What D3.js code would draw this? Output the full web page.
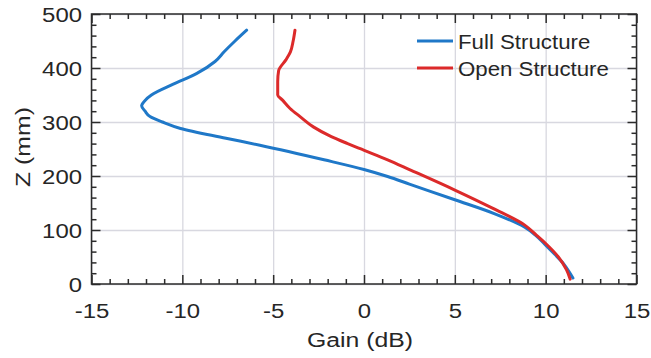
<!DOCTYPE html>
<html>
<head>
<meta charset="utf-8">
<script src="https://cdn.jsdelivr.net/npm/d3@7"></script>
<style>
  html, body { margin: 0; padding: 0; background: #fff; }
  svg { display: block; font-family: Arial, "Liberation Sans", sans-serif; }
</style>
</head>
<body>
<div id="chart"></div>
<script>
// data (z in mm, gain in dB)
var seriesNames = ['Full Structure', 'Open Structure'];
var fullZ    = [470, 450, 430, 412, 390, 370, 350, 340, 330, 320, 310, 300, 288, 270, 257, 230, 212, 199, 185, 156, 130, 105, 90, 72, 55, 38, 22, 11];
var fullGain = [-6.46, -7.1, -7.7, -8.2, -9.2, -10.5, -11.7, -12.05, -12.24, -12.05, -11.78, -11.1, -10.1, -7.6, -5.73, -2.2, 0, 1.3, 2.5, 5.0, 7.2, 8.85, 9.45, 10.0, 10.5, 10.97, 11.3, 11.5];
var openZ    = [470, 450, 430, 415, 395, 375, 350, 341, 325, 310, 291, 273, 260, 251, 230, 212, 174, 140, 109, 90, 75, 50, 26, 9];
var openGain = [-3.8, -3.9, -4.05, -4.3, -4.7, -4.75, -4.75, -4.5, -4.07, -3.52, -2.79, -1.8, -0.9, -0.25, 1.3, 2.5, 5.0, 7.1, 8.85, 9.5, 10.0, 10.7, 11.15, 11.35];
var xTicks = [-15, -10, -5, 0, 5, 10, 15];
var yTicks = [0, 100, 200, 300, 400, 500];
var colors = ['#1f78c8', '#dc2a2a'];

var W = 651, H = 358;
var pLeft = 91.5, pRight = 636.5, pTop = 14, pBottom = 284;

var svg = d3.select('#chart').append('svg').attr('width', W).attr('height', H);

var x = d3.scaleLinear().domain([-15, 15]).range([pLeft, pRight]);
var y = d3.scaleLinear().domain([0, 500]).range([pBottom, pTop]);

var xMinor = d3.range(-15, 15.01, 1).filter(function(v){ return xTicks.indexOf(v) < 0; });
var yMinor = d3.range(0, 500.01, 20).filter(function(v){ return yTicks.indexOf(v) < 0; });
var plain = function(d){ return String(d); };

// grid
svg.append('g').attr('transform', 'translate(0,' + pBottom + ')')
    .call(d3.axisBottom(x).tickValues(xTicks).tickSize(-(pBottom - pTop)).tickFormat(''))
    .call(function(g){ g.select('.domain').remove(); })
    .selectAll('line').attr('stroke', '#d8d8e0').attr('stroke-width', 1.3);
svg.append('g').attr('transform', 'translate(' + pLeft + ',0)')
    .call(d3.axisLeft(y).tickValues(yTicks).tickSize(-(pRight - pLeft)).tickFormat(''))
    .call(function(g){ g.select('.domain').remove(); })
    .selectAll('line').attr('stroke', '#d8d8e0').attr('stroke-width', 1.3);

// curves
var zs = [fullZ, openZ], gs = [fullGain, openGain];
var line = d3.line()
    .x(function(d){ return x(d[0]); })
    .y(function(d){ return y(d[1]); })
    .curve(d3.curveMonotoneY);
[0, 1].forEach(function(s){
    var pts = zs[s].map(function(z, i){ return [gs[s][i], z]; });
    svg.append('path').datum(pts)
        .attr('d', line)
        .attr('fill', 'none')
        .attr('stroke', colors[s])
        .attr('stroke-width', 3)
        .attr('stroke-linejoin', 'round')
        .attr('stroke-linecap', 'round');
});

// axes with inward ticks on all four sides
function styleAxis(g){
    g.select('.domain').remove();
    g.selectAll('line').attr('stroke', '#2b2b2b').attr('stroke-width', 1.5);
}
var MAJ = 9, MIN = 5;
svg.append('g').attr('transform', 'translate(0,' + pBottom + ')')
    .call(d3.axisBottom(x).tickValues(xMinor).tickSize(-MIN).tickFormat('')).call(styleAxis);
svg.append('g').attr('transform', 'translate(0,' + pTop + ')')
    .call(d3.axisTop(x).tickValues(xMinor).tickSize(-MIN).tickFormat('')).call(styleAxis);
svg.append('g').attr('transform', 'translate(' + pLeft + ',0)')
    .call(d3.axisLeft(y).tickValues(yMinor).tickSize(-MIN).tickFormat('')).call(styleAxis);
svg.append('g').attr('transform', 'translate(' + pRight + ',0)')
    .call(d3.axisRight(y).tickValues(yMinor).tickSize(-MIN).tickFormat('')).call(styleAxis);
svg.append('g').attr('transform', 'translate(0,' + pTop + ')')
    .call(d3.axisTop(x).tickValues(xTicks).tickSize(-MAJ).tickFormat('')).call(styleAxis);
svg.append('g').attr('transform', 'translate(' + pRight + ',0)')
    .call(d3.axisRight(y).tickValues(yTicks).tickSize(-MAJ).tickFormat('')).call(styleAxis);

var xAxis = svg.append('g').attr('transform', 'translate(0,' + pBottom + ')')
    .call(d3.axisBottom(x).tickValues(xTicks).tickSize(-MAJ).tickPadding(0).tickFormat(plain))
    .call(styleAxis);
xAxis.selectAll('text')
    .attr('y', 0).attr('dy', 0)
    .attr('transform', 'translate(0,34) scale(1.14,1)')
    .attr('font-size', 21).attr('fill', '#262626');

var yAxis = svg.append('g').attr('transform', 'translate(' + pLeft + ',0)')
    .call(d3.axisLeft(y).tickValues(yTicks).tickSize(-MAJ).tickPadding(0).tickFormat(plain))
    .call(styleAxis);
yAxis.selectAll('text')
    .attr('x', 0).attr('dy', 0).attr('y', 0)
    .attr('transform', 'translate(-9.5,7.5) scale(1.14,1)')
    .attr('text-anchor', 'end')
    .attr('font-size', 21).attr('fill', '#262626');

// frame
svg.append('rect')
    .attr('x', pLeft).attr('y', pTop)
    .attr('width', pRight - pLeft).attr('height', pBottom - pTop)
    .attr('fill', 'none').attr('stroke', '#2b2b2b').attr('stroke-width', 1.5);

// axis titles
svg.append('text')
    .attr('transform', 'translate(' + ((pLeft + pRight) / 2 - 4) + ',347) scale(1.18,1)')
    .attr('text-anchor', 'middle').attr('font-size', 21).attr('fill', '#262626')
    .text('Gain (dB)');
svg.append('text')
    .attr('transform', 'translate(30,147) rotate(-90) scale(1.18,1)')
    .attr('text-anchor', 'middle').attr('font-size', 21).attr('fill', '#262626')
    .text('Z (mm)');

// legend
var legend = svg.append('g');
seriesNames.forEach(function(name, i){
    var ly = 41 + i * 27;
    legend.append('line')
        .attr('x1', 417).attr('x2', 453).attr('y1', ly).attr('y2', ly)
        .attr('stroke', colors[i]).attr('stroke-width', 3);
    legend.append('text')
        .attr('transform', 'translate(458,' + (ly + 7.5) + ') scale(1.06,1)')
        .attr('font-size', 21).attr('fill', '#262626')
        .text(name);
});
</script>
</body>
</html>
